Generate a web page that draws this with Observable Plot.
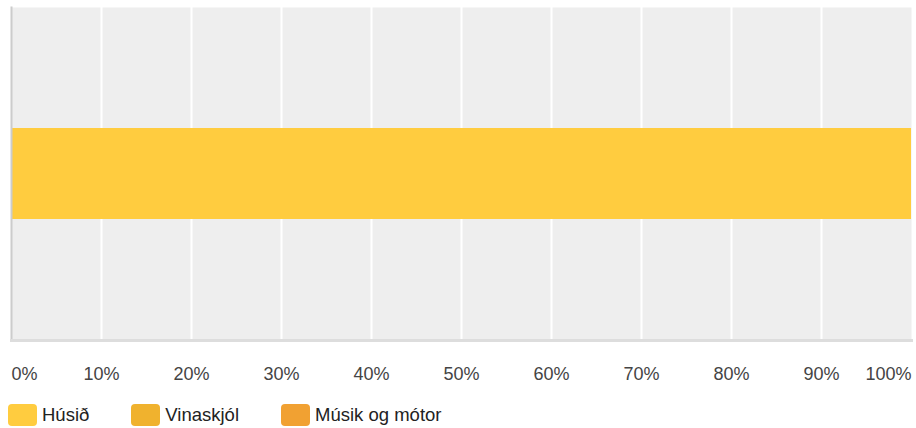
<!DOCTYPE html>
<html>
<head>
<meta charset="utf-8">
<script src="https://cdn.jsdelivr.net/npm/d3@7"></script>
<script src="https://cdn.jsdelivr.net/npm/@observablehq/plot@0.6"></script>
<style>
  body { margin: 0; background: #fff; font-family: "Liberation Sans", Arial, sans-serif; }
  #chart svg { display: block; }
  .legend { display: flex; align-items: center; margin-top: 12px; margin-left: 8px; font-size: 18.5px; color: #222; }
  .item { display: flex; align-items: center; margin-right: 42px; }
  .sw { width: 29px; height: 22px; border-radius: 4px; margin-right: 5px; }
</style>
</head>
<body>
<div id="chart"></div>
<div class="legend" id="legend"></div>
<script>
const categories = [""];
const series = ["Húsið", "Vinaskjól", "Músik og mótor"];
const values = [100, 0, 0];
const colors = ["#FFCC3F", "#F0B22E", "#F1A132"];
const ticks = [0, 10, 20, 30, 40, 50, 60, 70, 80, 90, 100];

const data = series.map((s, i) => ({cat: categories[0], series: s, value: values[i]}));
const fmt = d => d + "%";
const axOpts = {tickSize: 0, tickPadding: 27, tickFormat: fmt, fill: "#444", fontSize: 18, label: null};

const plot = Plot.plot({
  width: 916,
  height: 392,
  marginTop: 7,
  marginBottom: 52,
  marginLeft: 11,
  marginRight: 5,
  style: {fontFamily: "Liberation Sans, Arial, sans-serif", fontSize: "18px", background: "#fff"},
  x: {domain: [0, 100], axis: null, label: null},
  y: {domain: categories, padding: 0.57, axis: null},
  color: {domain: series, range: colors},
  marks: [
    Plot.frame({fill: "#EEEEEE", stroke: "none"}),
    Plot.gridX(ticks.slice(1, -1), {stroke: "#fff", strokeOpacity: 1, strokeWidth: 2}),
    Plot.barX(data, {x: "value", y: "cat", fill: "series"}),
    Plot.frame({anchor: "left", stroke: "#CCCCCC", strokeWidth: 2}),
    Plot.frame({anchor: "bottom", stroke: "#DDDDDD", strokeWidth: 3}),
    Plot.axisX(ticks.slice(0, 1), {...axOpts, textAnchor: "start"}),
    Plot.axisX(ticks.slice(1, -1), {...axOpts, textAnchor: "middle"}),
    Plot.axisX(ticks.slice(-1), {...axOpts, textAnchor: "end"})
  ]
});
document.getElementById("chart").appendChild(plot);

const legend = document.getElementById("legend");
series.forEach((s, i) => {
  const item = document.createElement("div");
  item.className = "item";
  const sw = document.createElement("div");
  sw.className = "sw";
  sw.style.background = colors[i];
  const t = document.createElement("span");
  t.textContent = s;
  item.appendChild(sw);
  item.appendChild(t);
  legend.appendChild(item);
});
</script>
</body>
</html>
